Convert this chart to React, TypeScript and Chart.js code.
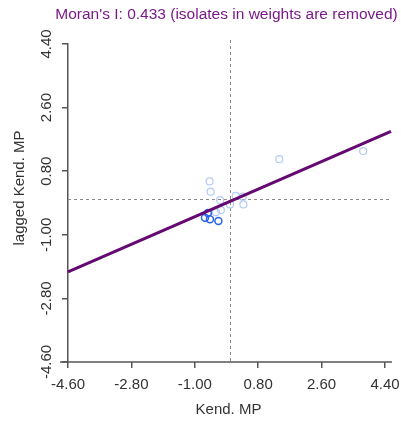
import React, { useEffect, useRef } from "react";
import { Chart, registerables } from "chart.js";

Chart.register(...registerables);

const titleText = "Moran's I: 0.433 (isolates in weights are removed)";
const xTitle = "Kend. MP";
const yTitle = "lagged Kend. MP";

const tickValues = [-4.6, -2.8, -1.0, 0.8, 2.6, 4.4];
const tickLabels = ["-4.60", "-2.80", "-1.00", "0.80", "2.60", "4.40"];

// faint (non-selected) observations
const lightX = [1.40, 3.78, -0.58, -0.55, -0.28, 0.0, 0.16, 0.36, 0.38, -0.26, -0.40];
const lightY = [1.14, 1.37, 0.51, 0.22, -0.02, -0.14, 0.10, 0.08, -0.14, -0.30, -0.36];

// highlighted observations
const darkX = [-0.63, -0.71, -0.57, -0.33];
const darkY = [-0.38, -0.52, -0.56, -0.61];

// regression line end points (slope 0.433)
const lineX = [-4.6, 4.57];
const lineY = [-2.05, 1.93];

const FONT = '"Liberation Sans", Arial, sans-serif';

const overlay = {
  id: "overlay",
  beforeDatasetsDraw(chart: any) {
    const ctx = chart.ctx;
    const xs = chart.scales.x;
    const ys = chart.scales.y;
    const a = chart.chartArea;
    ctx.save();
    ctx.strokeStyle = "#8a8a8a";
    ctx.lineWidth = 1;
    ctx.setLineDash([3, 3]);
    const x0 = Math.round(xs.getPixelForValue(0)) + 0.5;
    const y0 = Math.round(ys.getPixelForValue(0)) + 0.5;
    ctx.beginPath();
    ctx.moveTo(x0, a.top - 4);
    ctx.lineTo(x0, a.bottom);
    ctx.moveTo(a.left, y0);
    ctx.lineTo(a.right + 7, y0);
    ctx.stroke();
    ctx.setLineDash([]);
    // extended x axis line
    ctx.strokeStyle = "#555";
    ctx.lineWidth = 1.5;
    ctx.beginPath();
    ctx.moveTo(a.left - 8, a.bottom);
    ctx.lineTo(a.right + 7, a.bottom);
    ctx.stroke();
    ctx.restore();
  },
  afterDraw(chart: any) {
    const ctx = chart.ctx;
    const xs = chart.scales.x;
    const ys = chart.scales.y;
    const a = chart.chartArea;
    ctx.save();
    ctx.fillStyle = "#333";
    ctx.font = "15px " + FONT;
    ctx.textAlign = "center";
    ctx.textBaseline = "middle";
    tickValues.forEach((v, i) => {
      ctx.fillText(tickLabels[i], xs.getPixelForValue(v), a.bottom + 23);
    });
    tickValues.forEach((v, i) => {
      ctx.save();
      ctx.translate(a.left - 21, ys.getPixelForValue(v));
      ctx.rotate(-Math.PI / 2);
      ctx.fillText(tickLabels[i], 0, 0);
      ctx.restore();
    });
    ctx.font = "15px " + FONT;
    ctx.fillText(xTitle, (a.left + a.right) / 2 + 2, a.bottom + 48);
    ctx.save();
    ctx.translate(20, 188);
    ctx.rotate(-Math.PI / 2);
    ctx.fillText(yTitle, 0, 0);
    ctx.restore();
    ctx.fillStyle = "#7a1a8a";
    ctx.font = "15.5px " + FONT;
    ctx.fillText(titleText, (a.left + a.right) / 2, 15);
    ctx.restore();
  },
};

export default function App() {
  const ref = useRef<HTMLCanvasElement | null>(null);
  useEffect(() => {
    if (!ref.current) return;
    const chart = new Chart(ref.current, {
      type: "scatter",
      data: {
        datasets: [
          {
            label: "light",
            data: lightX.map((x, i) => ({ x, y: lightY[i] })),
            pointRadius: 3.5,
            pointBorderWidth: 1.2,
            pointBackgroundColor: "rgba(0,0,0,0)",
            pointBorderColor: "#b4cbf5",
            order: 3,
          },
          {
            label: "dark",
            data: darkX.map((x, i) => ({ x, y: darkY[i] })),
            pointRadius: 3.5,
            pointBorderWidth: 1.5,
            pointBackgroundColor: "rgba(0,0,0,0)",
            pointBorderColor: "#2a62f0",
            order: 2,
          },
          {
            label: "fit",
            data: lineX.map((x, i) => ({ x, y: lineY[i] })),
            showLine: true,
            borderColor: "#650872",
            borderWidth: 3,
            pointRadius: 0,
            clip: false as any,
            order: 1,
          },
        ],
      },
      options: {
        animation: false,
        responsive: false,
        devicePixelRatio: 1,
        layout: { padding: { left: 0, right: 16, top: 44, bottom: 0 } },
        plugins: { legend: { display: false }, tooltip: { enabled: false }, title: { display: false } },
        scales: {
          x: {
            type: "linear",
            min: -4.6,
            max: 4.4,
            afterBuildTicks: (s: any) => {
              s.ticks = tickValues.map((v) => ({ value: v }));
            },
            afterFit: (s: any) => {
              s.height = 59;
              s.paddingLeft = 0;
              s.paddingRight = 0;
            },
            ticks: { display: false },
            grid: { drawOnChartArea: false, drawTicks: true, tickLength: 6, color: "#555", lineWidth: 1.5 },
            border: { display: false },
          },
          y: {
            type: "linear",
            min: -4.6,
            max: 4.4,
            afterBuildTicks: (s: any) => {
              s.ticks = tickValues.map((v) => ({ value: v }));
            },
            afterFit: (s: any) => {
              s.width = 68;
              s.paddingTop = 0;
              s.paddingBottom = 0;
            },
            ticks: { display: false },
            grid: { drawOnChartArea: false, drawTicks: true, tickLength: 6, color: "#555", lineWidth: 1.5 },
            border: { display: true, color: "#555", width: 1.5 },
          },
        },
      },
      plugins: [overlay],
    });
    return () => chart.destroy();
  }, []);
  return (
    <div style={{ position: "fixed", left: 0, top: 0, width: 401, height: 421, background: "#fff" }}>
      <canvas ref={ref} width={401} height={421} style={{ display: "block" }} />
    </div>
  );
}
